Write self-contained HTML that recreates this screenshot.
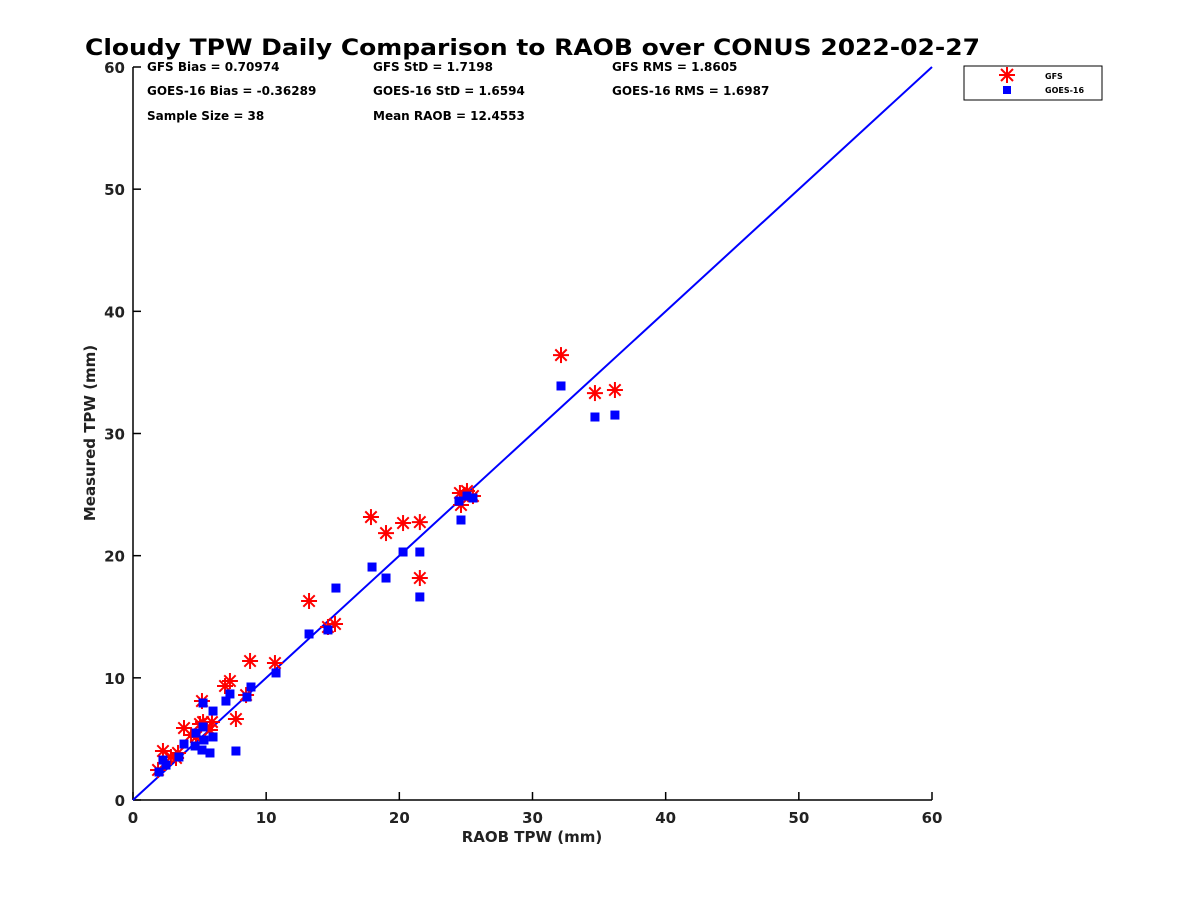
<!DOCTYPE html>
<html><head><meta charset="utf-8"><style>
body{margin:0;background:#fff}
svg{display:block;font-family:"DejaVu Sans","Liberation Sans",sans-serif}
</style></head><body>
<svg id="c" width="1200" height="900" viewBox="0 0 1200 900">
<text x="85" y="55" font-size="22" font-weight="bold" fill="#000" textLength="895" lengthAdjust="spacingAndGlyphs">Cloudy TPW Daily Comparison to RAOB over CONUS 2022-02-27</text>
<g font-size="12" font-weight="bold" fill="#000">
<text x="147" y="71">GFS Bias = 0.70974</text>
<text x="373" y="71">GFS StD = 1.7198</text>
<text x="612" y="71">GFS RMS = 1.8605</text>
<text x="147" y="95">GOES-16 Bias = -0.36289</text>
<text x="373" y="95">GOES-16 StD = 1.6594</text>
<text x="612" y="95">GOES-16 RMS = 1.6987</text>
<text x="147" y="120">Sample Size = 38</text>
<text x="373" y="120">Mean RAOB = 12.4553</text>
</g>
<g id="axes"></g>
<g id="marks"></g>
<g>
<rect x="964" y="66" width="138" height="34" fill="#fff" stroke="#000" stroke-width="1"/>
<g stroke="#ff0000" stroke-width="2">
<line x1="999" y1="75" x2="1015" y2="75"/><line x1="1007" y1="67" x2="1007" y2="83"/>
<line x1="1001" y1="69" x2="1013" y2="81"/><line x1="1001" y1="81" x2="1013" y2="69"/></g>
<rect x="1003" y="86" width="8" height="8" fill="#0000ff"/>
<text x="1045" y="79" font-size="8" font-weight="bold">GFS</text>
<text x="1045" y="93" font-size="8" font-weight="bold">GOES-16</text>
</g>
<text x="532" y="842" font-size="15" font-weight="bold" text-anchor="middle" fill="#222">RAOB TPW (mm)</text>
<text transform="translate(95,433) rotate(-90)" font-size="15" font-weight="bold" text-anchor="middle" fill="#222">Measured TPW (mm)</text>
</svg>
<script>
const xTicks=[0,10,20,30,40,50,60];
const yTicks=[0,10,20,30,40,50,60];
const gfsX=[1.88,2.25,2.85,3.38,3.83,4.73,5.18,5.26,5.78,5.93,6.91,7.28,7.73,8.49,8.79,10.66,13.22,14.64,15.17,17.87,19.00,20.28,21.54,21.54,24.55,24.63,25.08,25.53,32.14,34.69,36.19,3.23,5.03,4.36];
const gfsY=[2.46,4.01,3.52,3.85,5.89,5.16,8.10,6.38,5.73,6.38,9.33,9.74,6.63,8.59,11.38,11.21,16.29,14.16,14.41,23.16,21.85,22.67,22.75,18.17,25.13,24.15,25.29,24.88,36.42,33.31,33.56,3.44,6.22,5.32];
const goesX=[1.95,2.25,2.48,3.45,3.83,4.66,4.73,5.26,5.33,5.18,5.78,6.01,5.26,6.01,6.98,7.28,7.73,8.56,8.86,10.74,13.22,14.64,15.24,17.95,19.00,20.28,21.54,21.54,24.48,24.63,25.08,25.53,32.14,34.69,36.19];
const goesY=[2.29,3.27,2.86,3.52,4.58,4.42,5.48,5.98,4.91,4.09,3.85,5.16,7.94,7.28,8.10,8.68,4.01,8.43,9.25,10.40,13.59,13.92,17.35,19.07,18.17,20.30,20.30,16.62,24.47,22.92,24.88,24.72,33.89,31.35,31.51];
const X0=133,X1=932,Y0=800,Y1=67;
const sx=v=>X0+(v/60)*(X1-X0);
const sy=v=>Y0-(v/60)*(Y0-Y1);
const NS='http://www.w3.org/2000/svg';
function mk(tag,attrs,parent){const e=document.createElementNS(NS,tag);for(const k in attrs)e.setAttribute(k,attrs[k]);parent.appendChild(e);return e;}
const ax=document.getElementById('axes');
let a=mk('line',{x1:X0,y1:Y0,x2:X1,y2:Y0,stroke:'#000','stroke-width':1.5},ax);


a=mk('line',{x1:X0,y1:Y0,x2:X0,y2:Y1,stroke:'#000','stroke-width':1.5},ax);


xTicks.forEach(t=>{
  const l=mk('line',{x1:sx(t),y1:Y0,x2:sx(t),y2:Y0-8,stroke:'#000','stroke-width':1.5},ax);
  
  
  const tx=mk('text',{x:sx(t),y:Y0+23,'font-size':15,'font-weight':'bold','text-anchor':'middle',fill:'#222'},ax);
  tx.textContent=t;
  
  
});
yTicks.forEach(t=>{
  const l=mk('line',{x1:X0,y1:sy(t),x2:X0+8,y2:sy(t),stroke:'#000','stroke-width':1.5},ax);
  
  
  const tx=mk('text',{x:X0-8,y:sy(t)+6,'font-size':15,'font-weight':'bold','text-anchor':'end',fill:'#222'},ax);
  tx.textContent=t;
  
  
});
const m=document.getElementById('marks');
const one=mk('line',{x1:sx(0),y1:sy(0),x2:sx(60),y2:sy(60),stroke:'#0000ff','stroke-width':2},m);


gfsX.forEach((v,i)=>{
  const cx=sx(v),cy=sy(gfsY[i]),r=8,d=5.7;
  const g=mk('g',{stroke:'#ff0000','stroke-width':2},m);
  
  
  mk('line',{x1:cx-r,y1:cy,x2:cx+r,y2:cy},g);
  mk('line',{x1:cx,y1:cy-r,x2:cx,y2:cy+r},g);
  mk('line',{x1:cx-d,y1:cy-d,x2:cx+d,y2:cy+d},g);
  mk('line',{x1:cx-d,y1:cy+d,x2:cx+d,y2:cy-d},g);
});
goesX.forEach((v,i)=>{
  const s=mk('rect',{x:sx(v)-4.5,y:sy(goesY[i])-4.5,width:9,height:9,fill:'#0000ff'},m);
  
  
});
</script>
</body></html>
